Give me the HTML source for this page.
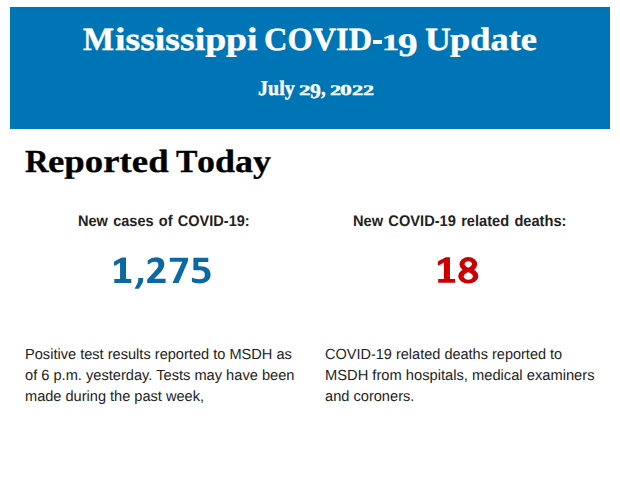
<!DOCTYPE html>
<html><head><meta charset="utf-8"><title>Mississippi COVID-19 Update</title>
<style>
html,body{margin:0;padding:0;background:#fff;}
body{width:620px;height:483px;position:relative;overflow:hidden;font-family:"Liberation Sans",sans-serif;}
.banner{position:absolute;left:10px;top:7px;width:600px;height:122px;background:#0075b5;}
.hy{position:absolute;left:373.4px;top:39.8px;width:9.1px;height:3.9px;background:#fff;}
.s{position:absolute;white-space:pre;line-height:1;transform-origin:0 0;text-rendering:geometricPrecision;}
.sf{font-family:"Liberation Serif",serif;font-weight:bold;}
.sb{font-family:"Liberation Sans",sans-serif;font-weight:bold;}
.sn{font-family:"Liberation Sans",sans-serif;font-weight:normal;}
svg{position:absolute;left:0;top:0;}
</style></head><body>
<div class="banner"></div>
<div class="hy"></div>
<span class="s sf" style="left:82.55px;top:24.02px;font-size:32.37px;color:#fff;transform:scaleX(1.0169);-webkit-text-stroke:0.4px #fff">M</span>
<span class="s sf" style="left:114.72px;top:24.02px;font-size:32.37px;color:#fff;transform:scaleX(1.1654);-webkit-text-stroke:0.4px #fff">ississippi</span>
<span class="s sf" style="left:263.7px;top:24.02px;font-size:32.37px;color:#fff;transform:scaleX(1.0019);-webkit-text-stroke:0.4px #fff">COVID</span>
<span class="s sf" style="left:381.93px;top:31.5px;font-size:22.73px;color:#fff;transform:scaleX(1.5111);-webkit-text-stroke:0.4px #fff">1</span>
<span class="s sf" style="left:397.81px;top:29.6px;font-size:32.87px;color:#fff;transform:scaleX(1.1932);-webkit-text-stroke:0.4px #fff">9</span>
<span class="s sf" style="left:425.24px;top:24.02px;font-size:32.37px;color:#fff;transform:scaleX(1.1101);-webkit-text-stroke:0.4px #fff">U</span>
<span class="s sf" style="left:449.52px;top:24.02px;font-size:32.37px;color:#fff;transform:scaleX(1.1242);-webkit-text-stroke:0.4px #fff">pdate</span>
<span class="s sf" style="left:257.69px;top:78.1px;font-size:21.07px;color:#fff;transform:scaleX(0.9526);-webkit-text-stroke:0.4px #fff">July</span>
<span class="s sf" style="left:298.62px;top:83.5px;font-size:14.55px;color:#fff;transform:scaleX(1.568);-webkit-text-stroke:0.4px #fff">2</span>
<span class="s sf" style="left:309.78px;top:81.5px;font-size:20.73px;color:#fff;transform:scaleX(1.0486);-webkit-text-stroke:0.4px #fff">9</span>
<span class="s sf" style="left:321.2px;top:78.09px;font-size:21.53px;color:#fff;transform:scaleX(0.8632);-webkit-text-stroke:0.4px #fff">,</span>
<span class="s sf" style="left:329.84px;top:83.5px;font-size:14.55px;color:#fff;transform:scaleX(1.52);-webkit-text-stroke:0.4px #fff">2</span>
<span class="s sf" style="left:340.31px;top:83.55px;font-size:15.07px;color:#fff;transform:scaleX(1.5704);-webkit-text-stroke:0.4px #fff">0</span>
<span class="s sf" style="left:351.93px;top:83.5px;font-size:14.55px;color:#fff;transform:scaleX(1.536);-webkit-text-stroke:0.4px #fff">2</span>
<span class="s sf" style="left:362.74px;top:83.5px;font-size:14.55px;color:#fff;transform:scaleX(1.52);-webkit-text-stroke:0.4px #fff">2</span>
<span class="s sf" style="left:25.09px;top:145.02px;font-size:32.06px;color:#000;transform:scaleX(1.0174);-webkit-text-stroke:0.3px #000">R</span>
<span class="s sf" style="left:48.35px;top:145.02px;font-size:32.06px;color:#000;transform:scaleX(1.1489);-webkit-text-stroke:0.3px #000">eported</span>
<span class="s sf" style="left:176.35px;top:145.02px;font-size:32.06px;color:#000;transform:scaleX(1.0024);-webkit-text-stroke:0.3px #000">T</span>
<span class="s sf" style="left:196.98px;top:145.02px;font-size:32.06px;color:#000;transform:scaleX(1.1228);-webkit-text-stroke:0.3px #000">oday</span>
<span class="s sb" style="left:78.26px;top:214.08px;font-size:15.41px;color:#222;transform:scaleX(0.9432);word-spacing:1.3px">New cases of COVID-19:</span>
<span class="s sb" style="left:353.35px;top:214.08px;font-size:15.41px;color:#222;transform:scaleX(0.9494);word-spacing:1.3px">New COVID-19 related deaths:</span>
<span class="s sn" style="left:24.56px;top:348.06px;font-size:14.7px;color:#222;transform:scaleX(0.9936)">Positive test results reported to MSDH as</span>
<span class="s sn" style="left:25.0px;top:369.06px;font-size:14.7px;color:#222;transform:scaleX(0.9961)">of 6 p.m. yesterday. Tests may have been</span>
<span class="s sn" style="left:24.81px;top:390.06px;font-size:14.7px;color:#222;transform:scaleX(0.9919)">made during the past week,</span>
<span class="s sn" style="left:324.56px;top:348.06px;font-size:14.7px;color:#222;transform:scaleX(0.9881)">COVID-19 related deaths reported to</span>
<span class="s sn" style="left:324.55px;top:369.06px;font-size:14.7px;color:#222;transform:scaleX(1.0006)">MSDH from hospitals, medical examiners</span>
<span class="s sn" style="left:324.75px;top:390.06px;font-size:14.7px;color:#222;transform:scaleX(0.995)">and coroners.</span>
<svg width="620" height="483" viewBox="0 0 620 483">
<g fill="#0c68a3">
<path d="M121.7 257.5 L126.05 257.5 L126.05 279.1 L131.3 279.1 L131.3 283 L114.3 283 L114.3 279.1 L120.05 279.1 L120.05 262.7 L115.4 265.5 Q114.2 266.1 114 264.8 L113.9 262.6 Q113.9 261.8 114.7 261.3 Z"/>
<path d="M138.3 277.9 L143.2 277.9 Q143.5 281.2 142.2 283.6 L139.2 288.2 Q138.9 288.7 138.2 288.7 L135.2 288.7 Q134.5 288.7 135 287.9 L137.6 283 Q138.3 281.3 138.3 279.6 Z"/>
<path d="M147.7 260.6 Q151.5 257.3 156 257.3 Q164.3 257.3 164.3 264.3 Q164.3 269.3 158.5 274.6 L154.2 278.8 L165.6 278.8 L165.6 283 L147.2 283 L147.2 279.6 L154.3 271.7 Q158.4 267.7 158.4 265 Q158.4 261.8 155 261.8 Q152 261.6 149.2 263.9 Q147.7 265 147.7 263.5 Z"/>
<path d="M169.8 257.7 L188 257.7 L188 260.9 L178.5 283 L172.5 283 L182.3 261.8 L169.8 261.8 Z"/>
<path d="M193.4 257.7 L208.3 257.7 L208.3 261.9 L198.4 261.9 L198.4 266.3 L200.5 266.3 C206.6 266.3 210.6 269.2 210.6 274.6 C210.6 280.2 206.3 283.4 199.8 283.4 C196.6 283.4 193.8 282.8 191.9 281.8 L191.9 277.6 C194.1 278.7 196.6 279.3 199.3 279.3 C202.8 279.3 204.9 277.8 204.9 274.9 C204.9 271.7 202.7 270.3 198.8 270.3 L193.4 270.3 Z"/>
</g>
<g fill="#cc0000">
<path transform="translate(323.9,-0.2)" d="M121.7 257.5 L126.05 257.5 L126.05 279.1 L131.3 279.1 L131.3 283 L114.3 283 L114.3 279.1 L120.05 279.1 L120.05 262.7 L115.4 265.5 Q114.2 266.1 114 264.8 L113.9 262.6 Q113.9 261.8 114.7 261.3 Z"/>
<ellipse cx="468.35" cy="264.3" rx="8.8" ry="7.2"/>
<ellipse cx="468.3" cy="276" rx="10.1" ry="7.4"/>
</g>
<path fill="#fff" d="M468.25 261.3 C470.6 261.3 471.95 262.5 471.95 264 C471.95 265.6 470.5 266.6 468.25 267.8 C466 266.6 464.55 265.6 464.55 264 C464.55 262.5 465.9 261.3 468.25 261.3 Z"/>
<path fill="#fff" d="M468.3 271.9 C470.9 273.2 472.85 274.3 472.85 276.3 C472.85 278.3 471 279.7 468.3 279.7 C465.6 279.7 463.75 278.3 463.75 276.3 C463.75 274.3 465.7 273.2 468.3 271.9 Z"/>
</svg>

</body></html>
